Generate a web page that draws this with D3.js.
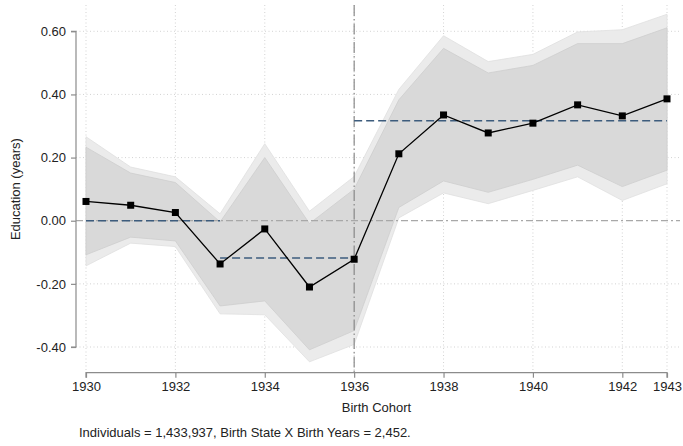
<!DOCTYPE html>
<html>
<head>
<meta charset="utf-8">
<script src="https://cdn.jsdelivr.net/npm/d3@7"></script>
<style>
  html, body { margin: 0; padding: 0; background: #fff; }
  text { font-family: "Liberation Sans", Arial, Helvetica, sans-serif; fill: #222; }
</style>
</head>
<body>
<svg id="chart" width="683" height="446"></svg>
<script>
const years = [1930, 1931, 1932, 1933, 1934, 1935, 1936, 1937, 1938, 1939, 1940, 1941, 1942, 1943];
const coef = [0.061, 0.049, 0.026, -0.137, -0.026, -0.210, -0.122, 0.212, 0.335, 0.278, 0.309, 0.367, 0.332, 0.386];
const innerHi = [0.233, 0.151, 0.121, -0.004, 0.200, -0.009, 0.100, 0.383, 0.546, 0.468, 0.492, 0.561, 0.561, 0.611];
const innerLo = [-0.108, -0.052, -0.064, -0.270, -0.254, -0.409, -0.348, 0.042, 0.126, 0.090, 0.131, 0.176, 0.108, 0.160];
const outerHi = [0.266, 0.170, 0.139, 0.022, 0.244, 0.030, 0.140, 0.416, 0.586, 0.504, 0.527, 0.598, 0.605, 0.654];
const outerLo = [-0.143, -0.071, -0.082, -0.295, -0.298, -0.447, -0.392, 0.009, 0.088, 0.054, 0.096, 0.139, 0.064, 0.117];
const meanSegments = [
  { from: 1930, to: 1933, value: 0.0 },
  { from: 1933, to: 1936, value: -0.118 },
  { from: 1936, to: 1943, value: 0.317 }
];
const xTicks = [1930, 1932, 1934, 1936, 1938, 1940, 1942, 1943];
const yTicks = [-0.4, -0.2, 0.0, 0.2, 0.4, 0.6];
const cutoffYear = 1936;
const xLabel = "Birth Cohort";
const yLabel = "Education (years)";
const note = "Individuals = 1,433,937, Birth State X Birth Years = 2,452.";

const FS = 13;
const svg = d3.select("#chart");
const x = d3.scaleLinear().domain([1930, 1943]).range([86, 667]);
const y = d3.scaleLinear().domain([-0.4, 0.6]).range([347, 31.3]);
const plotLeft = 76, plotRight = 680, plotTop = 5, xAxisY = 372.7;

const rows = years.map((yr, i) => ({ yr, c: coef[i], ih: innerHi[i], il: innerLo[i], oh: outerHi[i], ol: outerLo[i] }));

// gridlines
const grid = svg.append("g");
grid.selectAll("line.h").data(yTicks.filter(v => v !== 0)).join("line")
  .attr("x1", plotLeft).attr("x2", plotRight)
  .attr("y1", d => y(d)).attr("y2", d => y(d))
  .attr("stroke", "#c8c8c8").attr("stroke-width", 0.8).attr("stroke-dasharray", "1,2.5");
grid.selectAll("line.v").data(xTicks).join("line")
  .attr("x1", d => x(d)).attr("x2", d => x(d))
  .attr("y1", plotTop).attr("y2", xAxisY)
  .attr("stroke", "#c8c8c8").attr("stroke-width", 0.8).attr("stroke-dasharray", "1,2.5");

// confidence bands
const outerArea = d3.area().x(d => x(d.yr)).y0(d => y(d.ol)).y1(d => y(d.oh));
const innerArea = d3.area().x(d => x(d.yr)).y0(d => y(d.il)).y1(d => y(d.ih));
svg.append("path").datum(rows).attr("d", outerArea)
  .attr("fill", "#ebebeb").attr("stroke", "#e0e0e0").attr("stroke-width", 0.8);
svg.append("path").datum(rows).attr("d", innerArea)
  .attr("fill", "#d9d9d9").attr("stroke", "#cecece").attr("stroke-width", 0.8);

// zero reference line
svg.append("line")
  .attr("x1", plotLeft).attr("x2", plotRight)
  .attr("y1", y(0)).attr("y2", y(0))
  .attr("stroke", "#a8a8a8").attr("stroke-width", 1.2).attr("stroke-dasharray", "7,3,7,3,2,3");

// cutoff vertical line
svg.append("line")
  .attr("x1", x(cutoffYear)).attr("x2", x(cutoffYear))
  .attr("y1", plotTop).attr("y2", xAxisY)
  .attr("stroke", "#808080").attr("stroke-width", 1.1).attr("stroke-dasharray", "11,3,1.5,3");

// mean segments
svg.selectAll("line.mean").data(meanSegments).join("line")
  .attr("x1", d => x(d.from)).attr("x2", d => x(d.to))
  .attr("y1", d => y(d.value)).attr("y2", d => y(d.value))
  .attr("stroke", "#3d5c7d").attr("stroke-width", 1.5).attr("stroke-dasharray", "8,4");

// coefficient line & markers
svg.append("path").datum(rows)
  .attr("d", d3.line().x(d => x(d.yr)).y(d => y(d.c)))
  .attr("fill", "none").attr("stroke", "#000").attr("stroke-width", 1.3);
svg.selectAll("rect.pt").data(rows).join("rect")
  .attr("x", d => x(d.yr) - 3.5).attr("y", d => y(d.c) - 3.5)
  .attr("width", 7).attr("height", 7).attr("fill", "#000");

// axes
const yAxis = d3.axisLeft(y).tickValues(yTicks).tickFormat(d => d.toFixed(2)).tickSize(5).tickPadding(5);
const gy = svg.append("g").attr("transform", `translate(${plotLeft},0)`).call(yAxis);
const xAxis = d3.axisBottom(x).tickValues(xTicks).tickFormat(d => String(d)).tickSize(5).tickPadding(4);
const gx = svg.append("g").attr("transform", `translate(0,${xAxisY})`).call(xAxis);
[gx, gy].forEach(g => {
  g.select(".domain").attr("stroke", "#8c8c8c").attr("stroke-width", 1.2);
  g.selectAll(".tick line").attr("stroke", "#8c8c8c").attr("stroke-width", 1.2);
  g.selectAll(".tick text").attr("font-size", FS).attr("fill", "#222")
    .style("font-family", "'Liberation Sans', Arial, Helvetica, sans-serif");
});
gy.select(".domain").attr("d", `M-5,${y(0.6)}H0V${y(-0.4)}H-5`).attr("fill", "none");
gx.select(".domain").attr("d", `M${x(1930)},5V0H${x(1943)}V5`).attr("fill", "none");

// labels
svg.append("text").attr("x", (x(1930) + x(1943)) / 2).attr("y", 411.5)
  .attr("text-anchor", "middle").attr("font-size", FS).text(xLabel);
svg.append("text").attr("transform", `translate(19.5,${(y(0.6) + y(-0.4)) / 2}) rotate(-90)`)
  .attr("text-anchor", "middle").attr("font-size", FS).text(yLabel);
svg.append("text").attr("x", 79).attr("y", 436.5)
  .attr("font-size", FS).text(note);
</script>
</body>
</html>
